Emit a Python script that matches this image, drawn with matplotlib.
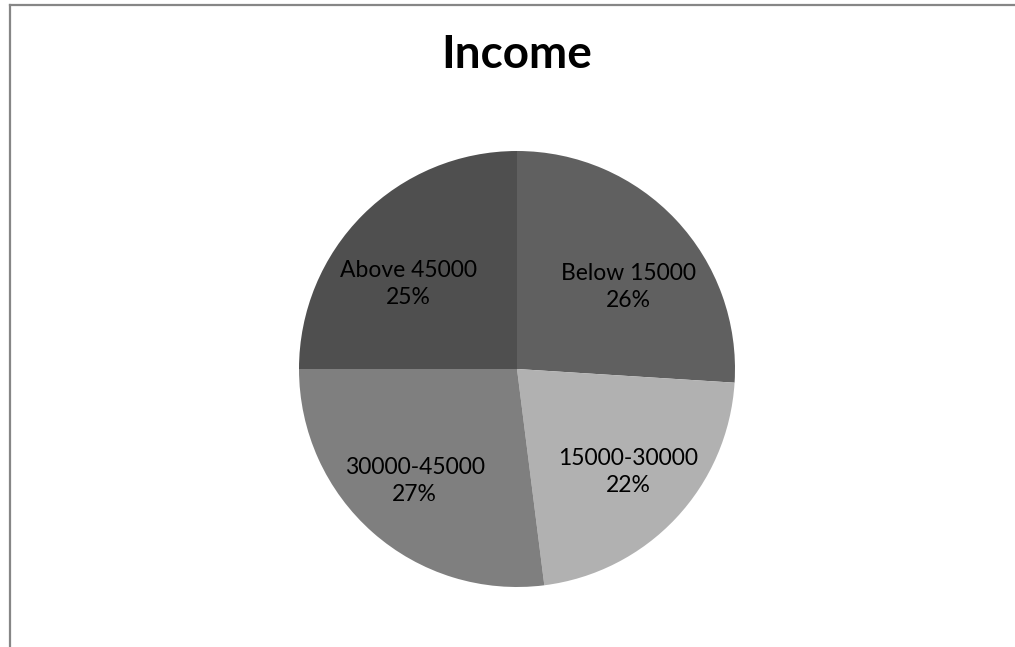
import matplotlib.pyplot as plt
from matplotlib.lines import Line2D
import numpy as np

# Income groups and their shares (%)
groups = ['Below 15000', '15000-30000', '30000-45000', 'Above 45000']
shares = [26, 22, 27, 25]
colors = ['#606060', '#b1b1b1', '#7f7f7f', '#4f4f4f']

plt.rcParams['font.family'] = ['Lato', 'DejaVu Sans']

fig = plt.figure(figsize=(10.15, 6.47), dpi=100)
fig.patch.set_facecolor('white')

# chart border (only top and left edges fall inside the image)
fig.add_artist(Line2D([10 / 1015, 1014 / 1015], [1 - 5 / 647, 1 - 5 / 647],
                      transform=fig.transFigure, color='#868686', lw=1.6))
fig.add_artist(Line2D([10 / 1015, 10 / 1015], [1 - 5 / 647, 0],
                      transform=fig.transFigure, color='#868686', lw=1.6))

ax = fig.add_axes([299 / 1015, 60 / 647, 436 / 1015, 436 / 647])
labels_iter = iter(groups)
wedges, texts, autotexts = ax.pie(
    shares, colors=colors, startangle=90, counterclock=False,
    autopct=lambda p: f'{next(labels_iter)}\n{p:.0f}%', pctdistance=0.62,
    textprops=dict(fontsize=16.5, color='black', linespacing=1.35),
    wedgeprops=dict(linewidth=0))

# push labels a bit outward horizontally and down
for t in autotexts:
    x, y = t.get_position()
    t.set_position((x + np.sign(x) * 0.06, y - 0.05))

ax.set_xlim(-1, 1)
ax.set_ylim(-1, 1)
ax.set_aspect('equal')
ax.axis('off')

fig.text(517 / 1015, 1 - 55 / 647, 'Income', ha='center', va='center',
         fontsize=33, fontweight='bold')

fig.savefig('out.png', dpi=100)
